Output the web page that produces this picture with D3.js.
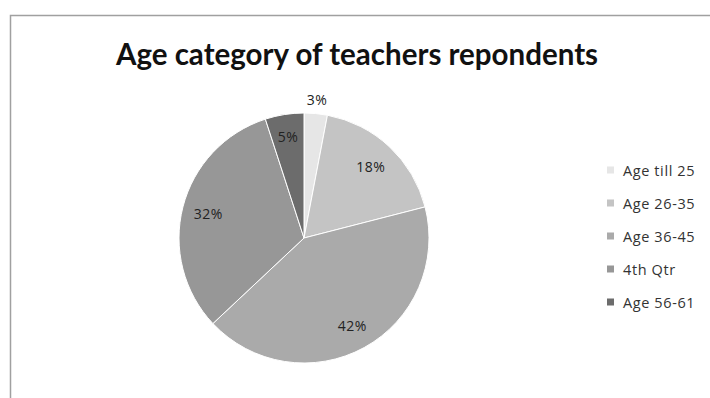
<!DOCTYPE html>
<html><head><meta charset="utf-8">
<script src="https://cdn.jsdelivr.net/npm/d3@7"></script>
<style>html,body{margin:0;padding:0;background:#fff;}svg{display:block;}</style>
</head><body>
<svg id="chart" width="710" height="398"></svg>
<script>
const title = "Age category of teachers repondents";
const categories = ["Age till 25", "Age 26-35", "Age 36-45", "4th Qtr", "Age 56-61"];
const values = [3, 18, 42, 32, 5];
const labels = ["3%", "18%", "42%", "32%", "5%"];
const colors = ["#e6e6e6", "#c4c4c4", "#aaaaaa", "#979797", "#6c6c6c"];

const svg = d3.select("#chart");
const font = "Lato, 'Open Sans', sans-serif";
const font2 = "'Open Sans', sans-serif";

// frame
svg.append("rect").attr("x", 10.5).attr("y", 15.5).attr("width", 720).attr("height", 400)
  .attr("fill", "#fff").attr("stroke", "#a0a0a0").attr("stroke-width", 1.5);

svg.append("text").attr("x", 357).attr("y", 65).attr("text-anchor", "middle")
  .attr("font-family", font).attr("font-weight", "bold").attr("font-size", 29.5)
  .attr("fill", "#111").text(title);

const cx = 304, cy = 238, r = 125;
const pie = d3.pie().sort(null).value(d => d)(values);
const arc = d3.arc().innerRadius(0).outerRadius(r);
const g = svg.append("g").attr("transform", `translate(${cx},${cy})`);
g.selectAll("path").data(pie).join("path")
  .attr("d", arc).attr("fill", (d, i) => colors[i])
  .attr("stroke", "#fff").attr("stroke-width", 1);

const labelArc = d3.arc();
const radFactor = [1.11, 0.78, 0.8, 0.79, 0.82];
g.selectAll("text.lbl").data(pie).join("text").attr("class", "lbl")
  .attr("transform", (d, i) => {
    const rr = r * radFactor[i];
    const [x, y] = labelArc.innerRadius(rr).outerRadius(rr).centroid(d);
    return `translate(${x},${y})`;
  })
  .attr("text-anchor", "middle").attr("dominant-baseline", "central")
  .attr("font-family", font2).attr("font-size", 14).attr("letter-spacing", 0.5).attr("fill", "#222")
  .text((d, i) => labels[i]);

const legend = svg.append("g");
const ly = d3.scalePoint().domain(categories).range([170, 302]);
categories.forEach((c, i) => {
  legend.append("rect").attr("x", 607).attr("y", ly(c) - 3.5).attr("width", 7).attr("height", 7)
    .attr("fill", colors[i]);
  legend.append("text").attr("x", 623).attr("y", ly(c)).attr("dominant-baseline", "central")
    .attr("font-family", font2).attr("font-size", 14.5).attr("letter-spacing", 0.6)
    .attr("fill", "#333").text(c);
});
</script>
</body></html>
